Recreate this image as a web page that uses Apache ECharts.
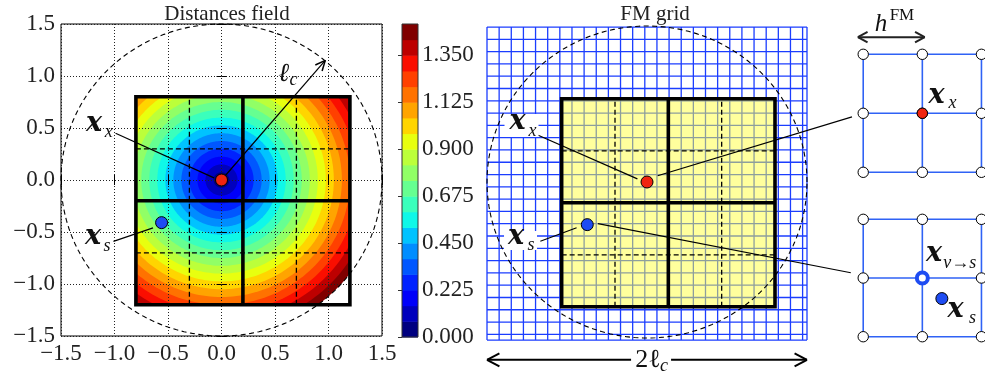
<!DOCTYPE html>
<html><head><meta charset="utf-8">
<script src="https://cdn.jsdelivr.net/npm/echarts@6/dist/echarts.min.js"></script>
<style>html,body{margin:0;padding:0;background:#fff}#c{width:985px;height:376px}</style>
</head><body><div id="c"></div>
<script>
// ------------------------- data -------------------------
const axisTicks = [-1.5, -1.0, -0.5, 0.0, 0.5, 1.0, 1.5];
const contourLevels = [0, 0.075, 0.15, 0.225, 0.3, 0.375, 0.45, 0.525, 0.6, 0.675, 0.75,
  0.825, 0.9, 0.975, 1.05, 1.125, 1.2, 1.275, 1.35, 1.425, 1.5];
const colorbarTicks = [0, 0.225, 0.45, 0.675, 0.9, 1.125, 1.35];
const targetPoint = [0, 0];            // x_x
const sourcePoint = [-0.56, -0.41];    // x_s
const cutoffRadius = 1.5;              // l_c
const domainBox = [-0.8, 1.2, -1.2, 0.8];   // xmin, xmax, ymin, ymax
const blockDividersX = [0.2];
const blockDividersY = [-0.2];
const subDividersX = [-0.3, 0.7];
const subDividersY = [0.3, -0.7];
const radiusArrowTip = [0.97, 1.15];
const leftXXLeader = [[-0.99, 0.45], [-0.07, 0.02]];
const leftXSLeader = [[-1.01, -0.59], [-0.64, -0.46]];
const leftXXLabel = [-1.19, 0.505];
const leftXSLabel = [-1.20, -0.577];
const leftLcLabel = [0.58, 1.02];
// FM grid (middle panel)
const fmOrigin = [-1.5, 1.49];
const fmExtent = [1.5, -1.52];
const fmStep = [0.1138, 0.1182];
const midXXLeader = [[-1.02, 0.45], [-0.09, 0.03]];
const midXSLeader = [[-1.0, -0.57], [-0.66, -0.44]];
const midXXLabel = [-1.214, 0.548];
const midXSLabel = [-1.228, -0.558];
const diameterArrowY = -1.71;
const diameterLabel = [0.01, -1.71];
// zoomed stencils (right panels)
const stencilNodesX = [0, 1, 2];
const stencilNodesY = [0, 1, 2];
const stencilCenter = [1, 1];
const stencilSource = [1.33, 0.65];
const hArrow = [[-0.09, 2.29], [1.04, 2.29]];
const hLabel = [0.30, 2.50];
const topXXLabel = [1.24, 1.24];
const vsLabel = [1.20, 1.35];
const botXSLabel = [1.56, 0.41];
// links between the middle panel and the stencils
const topLinkFrom = [0.1, 0.06], topLinkTo = [-0.19, 0.94];
const botLinkFrom = [-0.46, -0.40], botLinkTo = [-0.21, 1.09];

// ------------------------- styles -------------------------
const SERIF = '"Liberation Serif", "DejaVu Serif", serif';
const RED = '#f02410', BLUE = '#1e4cf2', GRIDBLUE = '#1b3dff', STBLUE = '#2f62f5';
function jet(t) {
  const f = (pts) => { for (let i = 1; i < pts.length; i++) { if (t <= pts[i][0]) { const [x0, y0] = pts[i - 1], [x1, y1] = pts[i]; return y0 + (y1 - y0) * (t - x0) / (x1 - x0); } } return pts[pts.length - 1][1]; };
  const r = f([[0, 0], [0.35, 0], [0.66, 1], [0.89, 1], [1, 0.5]]);
  const g = f([[0, 0], [0.125, 0], [0.375, 1], [0.64, 1], [0.91, 0], [1, 0]]);
  const b = f([[0, 0.5], [0.11, 1], [0.34, 1], [0.65, 0], [1, 0]]);
  return 'rgb(' + Math.round(r * 255) + ',' + Math.round(g * 255) + ',' + Math.round(b * 255) + ')';
}
const nBands = contourLevels.length - 1;
const bandColor = (i) => jet(i / (nBands - 1));
const fmt = (v) => (v < 0 ? '\u2212' : '') + Math.abs(v).toFixed(1);

// ------------------------- helpers -------------------------
function seg(api, a, b, style) {
  const p = api.coord(a), q = api.coord(b);
  return { type: 'line', shape: { x1: p[0], y1: p[1], x2: q[0], y2: q[1] }, style: style };
}
function circlePts(api, c, r, n) {
  const pts = [];
  for (let i = 0; i <= n; i++) { const t = 2 * Math.PI * i / n; pts.push(api.coord([c[0] + r * Math.cos(t), c[1] + r * Math.sin(t)])); }
  return pts;
}
function head(p, q, len, spread, style) {
  const ang = Math.atan2(p[1] - q[1], p[0] - q[0]);
  const out = [];
  [-spread, spread].forEach(s => {
    out.push({ type: 'line', shape: { x1: q[0], y1: q[1], x2: q[0] + len * Math.cos(ang + s), y2: q[1] + len * Math.sin(ang + s) }, style: style });
  });
  return out;
}
function txt(x, y, text, size, style, weight, family, align) {
  return { type: 'text', x: x, y: y, style: { text: text, fontSize: size, fontStyle: style || 'normal', fontWeight: weight || 'normal', fontFamily: family || SERIF, fill: '#111', align: align || 'center', verticalAlign: 'middle' } };
}
function mathLabel(api, pos, sub, subOff, box, mainText) {
  const p = api.coord(pos);
  const out = [];
  if (box) out.push({ type: 'rect', shape: { x: p[0] + box[0], y: p[1] + box[1], width: box[2], height: box[3] }, style: { fill: '#fff' } });
  out.push(txt(p[0], p[1] - 3, mainText || 'x', 27, 'italic', 'bold', '"DejaVu Serif", serif'));
  if (sub) out.push(txt(p[0] + subOff[0], p[1] + subOff[1], sub, 18, 'italic', 'normal', SERIF, subOff[2] || 'center'));
  return out;
}
function dot(api, pt, color, r) {
  const p = api.coord(pt);
  return { type: 'circle', shape: { cx: p[0], cy: p[1], r: r }, style: { fill: color, stroke: '#000', lineWidth: 1 } };
}
function domainLines(api, out) {
  const [x0, x1, y0, y1] = domainBox;
  const dash = { stroke: '#000', lineWidth: 1.3, lineDash: [5, 3] };
  subDividersX.forEach(x => out.push(seg(api, [x, y0], [x, y1], dash)));
  subDividersY.forEach(y => out.push(seg(api, [x0, y], [x1, y], dash)));
  const thick = { stroke: '#000', lineWidth: 3.6 };
  blockDividersX.forEach(x => out.push(seg(api, [x, y0], [x, y1], thick)));
  blockDividersY.forEach(y => out.push(seg(api, [x0, y], [x1, y], thick)));
  const c = [[x0, y0], [x1, y0], [x1, y1], [x0, y1]].map(api.coord);
  out.push({ type: 'polygon', shape: { points: c }, style: { fill: 'none', stroke: '#000', lineWidth: 3.6, lineJoin: 'miter' } });
  out.push({ type: 'polyline', shape: { points: circlePts(api, targetPoint, cutoffRadius, 240) }, style: { fill: 'none', stroke: '#000', lineWidth: 1.1, lineDash: [5, 3.5] } });
}

// ------------------------- series -------------------------
const fieldSeries = {
  type: 'custom', xAxisIndex: 0, yAxisIndex: 0, z: 1, silent: true, clip: false,
  data: contourLevels.slice(1).map((r, i) => [r, i]).reverse(),
  renderItem: function (params, api) {
    const r = api.value(0), band = api.value(1);
    const [x0, x1, y0, y1] = domainBox;
    const pts = [];
    for (let i = 0; i < 200; i++) {
      const t = 2 * Math.PI * i / 200;
      const x = Math.min(x1, Math.max(x0, targetPoint[0] + r * Math.cos(t)));
      const y = Math.min(y1, Math.max(y0, targetPoint[1] + r * Math.sin(t)));
      pts.push(api.coord([x, y]));
    }
    return { type: 'polygon', shape: { points: pts }, style: { fill: bandColor(band) } };
  }
};

const leftOverlay = {
  type: 'custom', xAxisIndex: 0, yAxisIndex: 0, z: 6, silent: true, clip: false, data: [[0, 0]],
  renderItem: function (params, api) {
    const out = [];
    domainLines(api, out);
    const lw = { stroke: '#000', lineWidth: 1.2 };
    const p = api.coord(targetPoint), q = api.coord(radiusArrowTip);
    out.push(seg(api, targetPoint, radiusArrowTip, lw));
    head(p, q, 11, 0.42, { stroke: '#000', lineWidth: 1.5 }).forEach(h => out.push(h));
    out.push(seg(api, leftXXLeader[0], leftXXLeader[1], lw));
    out.push(seg(api, leftXSLeader[0], leftXSLeader[1], lw));
    out.push(dot(api, targetPoint, RED, 6));
    out.push(dot(api, sourcePoint, BLUE, 6));
    mathLabel(api, leftXXLabel, 'x', [14.5, 4.5]).forEach(e => out.push(e));
    mathLabel(api, leftXSLabel, 's', [14, 6.5]).forEach(e => out.push(e));
    const l = api.coord(leftLcLabel);
    out.push(txt(l[0], l[1], '\u2113', 26, 'italic'));
    out.push(txt(l[0] + 10, l[1] + 6, 'c', 18, 'italic'));
    return { type: 'group', children: out };
  }
};

const colorbarSeries = {
  type: 'custom', xAxisIndex: 2, yAxisIndex: 2, z: 1, silent: true, clip: false, data: [[0, 0]],
  renderItem: function (params, api) {
    const out = [];
    for (let i = 0; i < nBands; i++) {
      const a = api.coord([0, contourLevels[i]]), b = api.coord([1, contourLevels[i + 1]]);
      out.push({ type: 'rect', shape: { x: a[0], y: b[1], width: b[0] - a[0], height: a[1] - b[1] + 0.5 }, style: { fill: bandColor(i) } });
    }
    const a = api.coord([0, contourLevels[0]]), b = api.coord([1, contourLevels[nBands]]);
    out.push({ type: 'rect', shape: { x: a[0], y: b[1], width: b[0] - a[0], height: a[1] - b[1] }, style: { fill: 'none', stroke: '#333', lineWidth: 1 } });
    return { type: 'group', children: out };
  }
};

const middleSeries = {
  type: 'custom', xAxisIndex: 3, yAxisIndex: 3, z: 4, silent: true, clip: false, data: [[0, 0]],
  renderItem: function (params, api) {
    const out = [];
    const gl = { stroke: GRIDBLUE, lineWidth: 1.3 };
    const xs = [], ys = [];
    for (let k = 0; fmOrigin[0] + k * fmStep[0] <= fmExtent[0] + 1e-9; k++) xs.push(fmOrigin[0] + k * fmStep[0]);
    xs.push(fmExtent[0]);
    for (let k = 0; fmOrigin[1] - k * fmStep[1] >= fmExtent[1] - 1e-9; k++) ys.push(fmOrigin[1] - k * fmStep[1]);
    ys.push(fmExtent[1]);
    xs.forEach(x => out.push(seg(api, [x, fmOrigin[1]], [x, fmExtent[1]], gl)));
    ys.forEach(y => out.push(seg(api, [fmOrigin[0], y], [fmExtent[0], y], gl)));
    const [x0, x1, y0, y1] = domainBox;
    const a = api.coord([x0, y1]), b = api.coord([x1, y0]);
    out.push({ type: 'rect', shape: { x: a[0], y: a[1], width: b[0] - a[0], height: b[1] - a[1] }, style: { fill: 'rgba(255,255,60,0.5)' } });
    domainLines(api, out);
    const lw = { stroke: '#000', lineWidth: 1.2 };
    out.push(seg(api, midXXLeader[0], midXXLeader[1], lw));
    out.push(seg(api, midXSLeader[0], midXSLeader[1], lw));
    out.push(dot(api, targetPoint, RED, 6));
    out.push(dot(api, sourcePoint, BLUE, 6));
    mathLabel(api, midXXLabel, 'x', [15, 6.5], [-13, -11, 34, 23]).forEach(e => out.push(e));
    mathLabel(api, midXSLabel, 's', [15, 5.5], [-12, -9, 33, 19]).forEach(e => out.push(e));
    // 2 l_c arrow
    const p = api.coord([fmOrigin[0], diameterArrowY]), q = api.coord([fmExtent[0], diameterArrowY]);
    const as = { stroke: '#000', lineWidth: 2 };
    out.push({ type: 'line', shape: { x1: p[0], y1: p[1], x2: q[0], y2: q[1] }, style: as });
    head(q, p, 14, 0.48, as).forEach(h => out.push(h));
    head(p, q, 14, 0.48, as).forEach(h => out.push(h));
    const d = api.coord(diameterLabel);
    out.push({ type: 'rect', shape: { x: d[0] - 17, y: d[1] - 13, width: 40, height: 27 }, style: { fill: '#fff' } });
    out.push(txt(d[0], d[1], '2\u2113', 26, 'normal'));
    out.push(txt(d[0] + 16, d[1] + 6, 'c', 18, 'italic'));
    return { type: 'group', children: out };
  }
};

function stencil(api, out) {
  const ls = { stroke: STBLUE, lineWidth: 1.6 };
  stencilNodesY.forEach(y => out.push(seg(api, [stencilNodesX[0], y], [stencilNodesX[stencilNodesX.length - 1] + 0.3, y], ls)));
  stencilNodesX.forEach(x => out.push(seg(api, [x, stencilNodesY[0]], [x, stencilNodesY[stencilNodesY.length - 1]], ls)));
  stencilNodesX.forEach(x => stencilNodesY.forEach(y => out.push(dot(api, [x, y], '#fff', 5.2))));
}

const topStencil = {
  type: 'custom', xAxisIndex: 4, yAxisIndex: 4, z: 4, silent: true, clip: false, data: [[0, 0]],
  renderItem: function (params, api) {
    const out = [];
    stencil(api, out);
    out.push(dot(api, stencilCenter, RED, 5.2));
    mathLabel(api, topXXLabel, 'x', [16, 4.5]).forEach(e => out.push(e));
    const p = api.coord(hArrow[0]), q = api.coord(hArrow[1]);
    const as = { stroke: '#222', lineWidth: 2 };
    out.push({ type: 'line', shape: { x1: p[0], y1: p[1], x2: q[0], y2: q[1] }, style: as });
    head(q, p, 11, 0.5, as).forEach(h => out.push(h));
    head(p, q, 11, 0.5, as).forEach(h => out.push(h));
    const h = api.coord(hLabel);
    out.push(txt(h[0], h[1], 'h', 25, 'italic'));
    out.push(txt(h[0] + 21, h[1] - 9, 'FM', 17, 'normal'));
    return { type: 'group', children: out };
  }
};

const botStencil = {
  type: 'custom', xAxisIndex: 5, yAxisIndex: 5, z: 4, silent: true, clip: false, data: [[0, 0]],
  renderItem: function (params, api) {
    const out = [];
    stencil(api, out);
    const c = api.coord(stencilCenter);
    out.push({ type: 'circle', shape: { cx: c[0], cy: c[1], r: 5.5 }, style: { fill: '#fff', stroke: BLUE, lineWidth: 4 } });
    out.push(dot(api, stencilSource, BLUE, 6));
    mathLabel(api, vsLabel, 'v\u2192s', [9, 5.5, 'left']).forEach(e => out.push(e));
    mathLabel(api, botXSLabel, 's', [17, 5.5]).forEach(e => out.push(e));
    return { type: 'group', children: out };
  }
};

// ------------------------- option -------------------------
const tickLabel = { fontFamily: SERIF, fontSize: 23, color: '#222' };
const dotted = { show: true, lineStyle: { type: [1, 2], color: '#222', width: 1 } };
const hidden = (g, min, max) => ({ gridIndex: g, type: 'value', min: min, max: max, show: false });
const option = {
  animation: false,
  backgroundColor: '#fff',
  title: [
    { text: 'Distances field', left: 222, top: -1, textAlign: 'center', textStyle: { fontFamily: SERIF, fontSize: 21, fontWeight: 'normal', color: '#222' } },
    { text: 'FM grid', left: 650, top: -1, textAlign: 'center', textStyle: { fontFamily: SERIF, fontSize: 21, fontWeight: 'normal', color: '#222' } }
  ],
  grid: [
    { left: 61, top: 24, width: 321, height: 312, show: true, borderColor: '#000', borderWidth: 1, backgroundColor: 'transparent' },
    { left: 402, top: 24, width: 16, height: 313 },
    { left: 487, top: 26, width: 320, height: 312 },
    { left: 804.1, top: 7.1, width: 181.2, height: 182.9 },
    { left: 804.1, top: 184.1, width: 181.2, height: 176.1 }
  ],
  xAxis: [
    { gridIndex: 0, type: 'value', min: axisTicks[0], max: axisTicks[axisTicks.length - 1], interval: 0.5, position: 'bottom', z: 3,
      axisLine: { show: false }, axisTick: { show: true, inside: true, length: 5, lineStyle: { color: '#000' } },
      axisLabel: Object.assign({ margin: 6, formatter: fmt }, tickLabel), splitLine: dotted },
    { gridIndex: 0, type: 'value', min: axisTicks[0], max: axisTicks[axisTicks.length - 1], interval: 0.5, position: 'top', z: 3,
      axisLine: { show: false }, axisTick: { show: true, inside: true, length: 5, lineStyle: { color: '#000' } },
      axisLabel: { show: false }, splitLine: { show: false } },
    hidden(1, 0, 1),
    hidden(2, -1.5, 1.5),
    hidden(3, -1, 2.06),
    hidden(4, -1, 2.06)
  ],
  yAxis: [
    { gridIndex: 0, type: 'value', min: axisTicks[0], max: axisTicks[axisTicks.length - 1], interval: 0.5, position: 'left', z: 3,
      axisLine: { show: false }, axisTick: { show: true, inside: true, length: 5, lineStyle: { color: '#000' } },
      axisLabel: Object.assign({ margin: 6, formatter: fmt }, tickLabel), splitLine: dotted },
    { gridIndex: 0, type: 'value', min: axisTicks[0], max: axisTicks[axisTicks.length - 1], interval: 0.5, position: 'right', z: 3,
      axisLine: { show: false }, axisTick: { show: true, inside: true, length: 5, lineStyle: { color: '#000' } },
      axisLabel: { show: false }, splitLine: { show: false } },
    { gridIndex: 1, type: 'value', min: colorbarTicks[0], max: contourLevels[contourLevels.length - 1], interval: colorbarTicks[1], position: 'right', z: 3,
      axisLine: { show: false }, axisTick: { show: true, inside: true, length: 4, lineStyle: { color: '#333' } },
      axisLabel: Object.assign({ margin: 4, showMaxLabel: false, formatter: (v) => v.toFixed(3) }, tickLabel), splitLine: { show: false } },
    hidden(2, -1.5, 1.5),
    hidden(3, -0.3, 2.8),
    hidden(4, -0.4, 2.6)
  ],
  series: [fieldSeries, leftOverlay, colorbarSeries, middleSeries, topStencil, botStencil]
};

const chart = echarts.init(document.getElementById('c'), null, { renderer: 'canvas' });
chart.setOption(option);
const P = (g, pt) => chart.convertToPixel({ gridIndex: g }, pt);
const links = [[P(2, topLinkFrom), P(3, topLinkTo)], [P(2, botLinkFrom), P(4, botLinkTo)]];
chart.setOption({
  graphic: links.map(l => ({ type: 'line', z: 100, silent: true, shape: { x1: l[0][0], y1: l[0][1], x2: l[1][0], y2: l[1][1] }, style: { stroke: '#000', lineWidth: 1.2 } }))
});
</script>
</body></html>
